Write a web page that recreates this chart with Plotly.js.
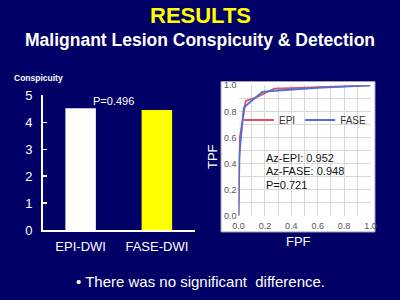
<!DOCTYPE html>
<html>
<head>
<meta charset="utf-8">
<script src="https://cdn.plot.ly/plotly-3.0.1.min.js"></script>
<style>
html,body{margin:0;padding:0;background:#000066;}
#chart{width:400px;height:300px;}
</style>
</head>
<body>
<div id="chart"></div>
<script>
// Bar chart data
var barCategories = ["EPI-DWI", "FASE-DWI"];
var barValues = [4.53, 4.46];
var barColors = ["#ffffff", "#ffff00"];

// ROC data
var epiFPF = [0, 0.005, 0.01, 0.055, 0.13, 0.18, 0.27, 0.45, 1.0];
var epiTPF = [0, 0.40, 0.60, 0.88, 0.905, 0.93, 0.975, 0.98, 1.0];
var faseFPF = [0, 0.005, 0.04, 0.18, 0.30, 0.60, 1.0];
var faseTPF = [0, 0.45, 0.83, 0.95, 0.96, 0.98, 1.0];

var rocTicks = [0, 0.2, 0.4, 0.6, 0.8, 1.0];
var rocTickText = ["0.0", "0.2", "0.4", "0.6", "0.8", "1.0"];

var FONT = "Liberation Sans, Arial, sans-serif";

var traces = [
  {
    type: "bar", x: barCategories, y: barValues,
    marker: {color: barColors, line: {width: 0}},
    width: 0.4, xaxis: "x", yaxis: "y", showlegend: false, hoverinfo: "skip"
  },
  {
    type: "scatter", mode: "lines", name: "EPI", x: epiFPF, y: epiTPF,
    line: {color: "#d9545e", width: 1.8}, xaxis: "x2", yaxis: "y2"
  },
  {
    type: "scatter", mode: "lines", name: "FASE", x: faseFPF, y: faseTPF,
    line: {color: "#4a72d8", width: 1.8}, xaxis: "x2", yaxis: "y2"
  }
];

var layout = {
  width: 400, height: 300,
  margin: {l: 0, r: 0, t: 0, b: 0},
  paper_bgcolor: "#000066",
  plot_bgcolor: "rgba(0,0,0,0)",
  font: {family: FONT},
  xaxis: {
    domain: [0.10625, 0.4875], range: [-0.5, 1.5], type: "category",
    showline: true, linecolor: "#ffffff", linewidth: 1.5,
    showgrid: false, zeroline: false, ticks: "",
    tickfont: {color: "#ffffff", size: 13, family: FONT},
    ticklabelstandoff: 4, anchor: "y"
  },
  yaxis: {
    domain: [0.2333, 0.6817], range: [0, 5], dtick: 1,
    showline: true, linecolor: "#ffffff", linewidth: 1.5,
    showgrid: false, zeroline: false,
    ticks: "inside", ticklen: 4, tickcolor: "#ffffff", tickwidth: 1.5,
    tickfont: {color: "#ffffff", size: 13, family: FONT},
    ticklabelstandoff: 6, anchor: "x"
  },
  xaxis2: {
    domain: [0.59625, 0.92625], range: [0, 1.0], anchor: "y2",
    tickvals: rocTicks, ticktext: rocTickText,
    showgrid: true, gridcolor: "#d8d8d8", gridwidth: 1,
    minor: {dtick: 0.1, showgrid: true, gridcolor: "#d8d8d8", gridwidth: 1},
    zeroline: false, showline: false, ticks: "",
    ticklabelstandoff: 3,
    tickfont: {color: "#555555", size: 9, family: FONT}
  },
  yaxis2: {
    domain: [0.281, 0.7157], range: [0, 1.0], anchor: "x2",
    tickvals: rocTicks, ticktext: rocTickText,
    showgrid: true, gridcolor: "#d8d8d8", gridwidth: 1,
    minor: {dtick: 0.1, showgrid: true, gridcolor: "#d8d8d8", gridwidth: 1},
    zeroline: false, showline: false, ticks: "",
    ticklabelstandoff: 1,
    tickfont: {color: "#555555", size: 9, family: FONT}
  },
  showlegend: true,
  legend: {
    orientation: "h", x: 0.5975, y: 0.6, xanchor: "left", yanchor: "middle",
    bgcolor: "rgba(0,0,0,0)", font: {size: 10, color: "#333333", family: FONT},
    itemwidth: 30, tracegroupgap: 0
  },
  shapes: [
    {
      type: "rect", xref: "paper", yref: "paper", layer: "below",
      x0: 0.5525, x1: 0.9375, y0: 0.2267, y1: 0.7283,
      fillcolor: "#ffffff", line: {color: "#a0a0b0", width: 1}
    }
  ],
  annotations: [
    {text: "<b>RESULTS</b>", xref: "paper", yref: "paper", x: 0.5, y: 1 - 15.5/300,
     showarrow: false, font: {size: 22, color: "#ffff00", family: FONT}, xanchor: "center", yanchor: "middle"},
    {text: "<b>Malignant Lesion Conspicuity &amp; Detection</b>", xref: "paper", yref: "paper", x: 0.5, y: 1 - 40/300,
     showarrow: false, font: {size: 17.5, color: "#ffffff", family: FONT}, xanchor: "center", yanchor: "middle"},
    {text: "<b>Conspicuity</b>", xref: "paper", yref: "paper", x: 11.5/400, y: 1 - 78.3/300,
     showarrow: false, font: {size: 8.5, color: "#ffffff", family: FONT}, xanchor: "left", yanchor: "middle"},
    {text: "P=0.496", xref: "paper", yref: "paper", x: 114/400, y: 1 - 101/300,
     showarrow: false, font: {size: 11, color: "#ffffff", family: FONT}, xanchor: "center", yanchor: "middle"},
    {text: "TPF", xref: "paper", yref: "paper", x: 212/400, y: 1 - 157/300, textangle: -90,
     showarrow: false, font: {size: 13, color: "#ffffff", family: FONT}, xanchor: "center", yanchor: "middle"},
    {text: "FPF", xref: "paper", yref: "paper", x: 298/400, y: 1 - 241.7/300,
     showarrow: false, font: {size: 13, color: "#ffffff", family: FONT}, xanchor: "center", yanchor: "middle"},
    {text: "Az-EPI: 0.952", xref: "paper", yref: "paper", x: 263.5/400, y: 1 - 158.3/300,
     showarrow: false, font: {size: 11, color: "#111111", family: FONT}, xanchor: "left", yanchor: "middle"},
    {text: "Az-FASE: 0.948", xref: "paper", yref: "paper", x: 263.5/400, y: 1 - 171/300,
     showarrow: false, font: {size: 11, color: "#111111", family: FONT}, xanchor: "left", yanchor: "middle"},
    {text: "P=0.721", xref: "paper", yref: "paper", x: 263.5/400, y: 1 - 184.5/300,
     showarrow: false, font: {size: 11, color: "#111111", family: FONT}, xanchor: "left", yanchor: "middle"},
    {text: "\u2022 There was no significant  difference.", xref: "paper", yref: "paper", x: 0.5, y: 1 - 281/300,
     showarrow: false, font: {size: 15, color: "#ffffff", family: FONT}, xanchor: "center", yanchor: "middle"}
  ]
};

Plotly.newPlot("chart", traces, layout, {staticPlot: true, displayModeBar: false});
</script>
</body>
</html>
